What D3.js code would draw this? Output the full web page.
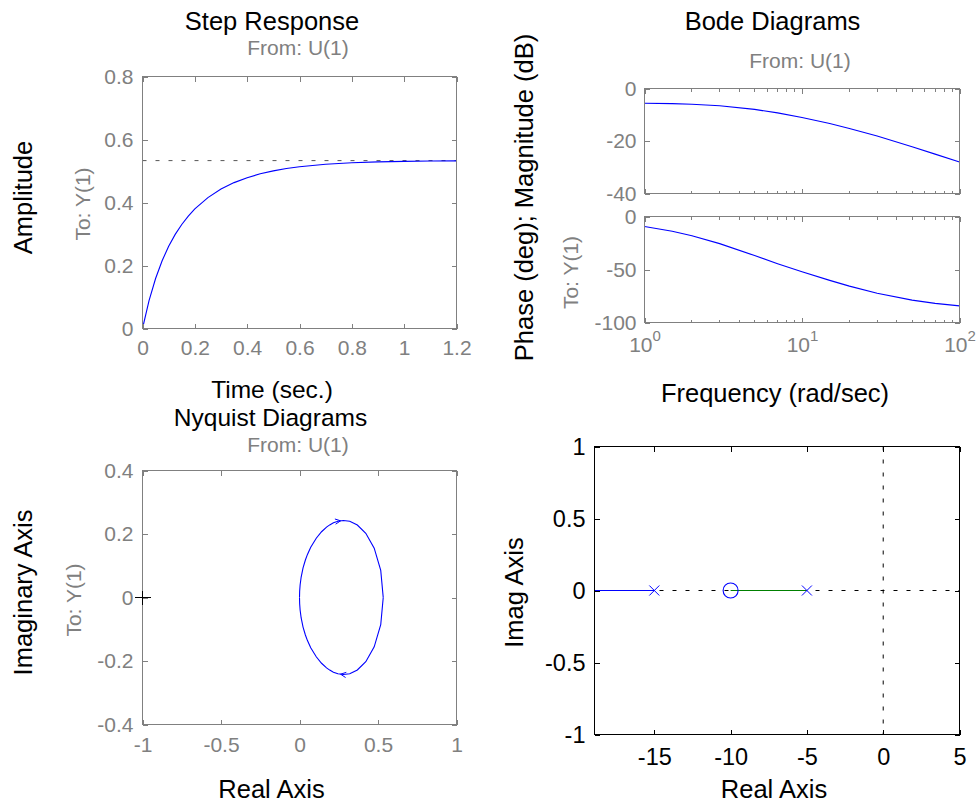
<!DOCTYPE html>
<html><head><meta charset="utf-8">
<script src="https://cdn.jsdelivr.net/npm/d3@7"></script>
<style>
body{margin:0;background:#fff}
svg{display:block}
text{font-family:"Liberation Sans",Arial,Helvetica,sans-serif}
</style>
</head><body>
<svg id="c" width="977" height="806"></svg>
<script>
// ---------- data ----------
const stepTime = [0,0.025,0.05,0.075,0.1,0.125,0.15,0.175,0.2,0.25,0.3,0.35,0.4,0.45,0.5,0.55,0.6,0.7,0.8,0.9,1.0,1.1,1.2];
const stepAmp  = [0,0.0887,0.1588,0.2151,0.2610,0.2988,0.3302,0.3568,0.3795,0.4156,0.4426,0.4631,0.4789,0.4910,0.5005,0.5077,0.5134,0.5212,0.5260,0.5289,0.5306,0.5317,0.5323];
const stepFinal = 0.533;
const stepXTicks = [0,0.2,0.4,0.6,0.8,1,1.2];
const stepYTicks = [0,0.2,0.4,0.6,0.8];

const bodeFreq  = [1,1.5,2,3,5,7,10,15,20,30,50,70,100];
const bodeMag   = [-5.61,-5.78,-6.01,-6.59,-7.96,-9.30,-11.04,-13.35,-15.21,-18.13,-22.19,-25.00,-28.02];
const bodePhase = [-9.41,-13.88,-18.09,-25.58,-36.87,-44.49,-52.13,-60.26,-65.66,-72.41,-78.90,-81.95,-84.32];
const magTicks   = [0,-20,-40];
const phaseTicks = [0,-50,-100];
const freqTicks  = [1,10,100];

// Nyquist, positive frequencies (0 -> inf)
const nyqRe = [0.5333,0.5174,0.4758,0.4223,0.3684,0.3200,0.2789,0.2446,0.2162,0.1924,0.1723,0.1405,0.1067,0.0715,0.0507,0.0375,0.0226,0.0106,0.0039,0.0010,0];
const nyqIm = [0,-0.0858,-0.1554,-0.2021,-0.2283,-0.2400,-0.2427,-0.2403,-0.2351,-0.2286,-0.2215,-0.2071,-0.1867,-0.1581,-0.1357,-0.1182,-0.0931,-0.0645,-0.0395,-0.0199,0];
const nyqXTicks = [-1,-0.5,0,0.5,1];
const nyqYTicks = [-0.4,-0.2,0,0.2,0.4];

// Root locus
const rlPoles = [-15,-5];
const rlZeros = [-10];
const rlBranchBlue  = [-15,-100];
const rlBranchGreen = [-5,-10];
const rlXTicks = [-15,-10,-5,0,5];
const rlYTicks = [-1,-0.5,0,0.5,1];
const rlXMin = -18.92, rlXMax = 5;

// ---------- drawing ----------
const svg = d3.select("#c");
const GRAY = "#808080";
const BLUE = "#0000ff";
const GREEN = "#008000";

function txt(x,y,s,size,color,anchor,rot){
  const t = svg.append("text").attr("font-size",size).attr("fill",color)
    .attr("text-anchor",anchor||"middle").text(s);
  if(rot) t.attr("transform",`translate(${x},${y}) rotate(-90)`);
  else t.attr("x",x).attr("y",y);
  return t;
}

function frame(x,y,opt){
  const c = opt.color, fs = opt.fs;
  const [x0,x1] = x.range(), [y1,y0] = y.range();
  const g = svg.append("g");
  const style = sel=>{
    sel.select(".domain").remove();
    sel.selectAll(".tick line").attr("stroke",c).attr("shape-rendering","crispEdges");
    sel.selectAll(".tick text").attr("fill",c).attr("font-size",fs)
       .attr("font-family",'"Liberation Sans",Arial,sans-serif');
  };
  const xt = opt.xticks, yt = opt.yticks;
  const b = g.append("g").attr("transform",`translate(0,${y1})`)
    .call(d3.axisBottom(x).tickValues(xt).tickSize(-opt.tl).tickPadding(opt.xpad)
      .tickFormat(opt.xfmt || (d=>String(d)))).call(style);
  if(!opt.xlabels) b.selectAll(".tick text").remove();
  g.append("g").attr("transform",`translate(0,${y0})`)
    .call(d3.axisTop(x).tickValues(xt).tickSize(-opt.tl).tickFormat("")).call(style);
  g.append("g").attr("transform",`translate(${x0},0)`)
    .call(d3.axisLeft(y).tickValues(yt).tickSize(-opt.tl).tickPadding(opt.ypad)
      .tickFormat(opt.yfmt || (d=>String(d)))).call(style);
  g.append("g").attr("transform",`translate(${x1},0)`)
    .call(d3.axisRight(y).tickValues(yt).tickSize(-opt.tl).tickFormat("")).call(style);
  g.append("rect").attr("x",x0).attr("y",y0).attr("width",x1-x0).attr("height",y1-y0)
    .attr("fill","none").attr("stroke",c).attr("stroke-width",1).attr("shape-rendering","crispEdges");
  return b;
}

// ===== Step response =====
{
  const x = d3.scaleLinear().domain([0,1.2]).range([142.5,456.5]);
  const y = d3.scaleLinear().domain([0,0.8]).range([328.5,76.5]);
  svg.append("line").attr("x1",x(0)).attr("x2",x(1.2)).attr("y1",y(stepFinal)).attr("y2",y(stepFinal))
    .attr("stroke","#555").attr("stroke-dasharray","4,9").attr("stroke-width",1);
  svg.append("path").datum(stepTime.map((t,i)=>[t,stepAmp[i]]))
    .attr("d",d3.line().x(d=>x(d[0])).y(d=>y(d[1])))
    .attr("fill","none").attr("stroke",BLUE).attr("stroke-width",1.1);
  frame(x,y,{color:GRAY,fs:21,tl:5,xticks:stepXTicks,yticks:stepYTicks,xpad:12,ypad:9,xlabels:true});
  txt(272,30,"Step Response",25.5,"#000");
  txt(298,55,"From: U(1)",21,GRAY);
  txt(32,197.5,"Amplitude",25.5,"#000","middle",true);
  txt(90,204,"To: Y(1)",21,GRAY,"middle",true);
  txt(272,398,"Time (sec.)",24.5,"#000");
}

// ===== Bode =====
{
  const x = d3.scaleLog().domain([1,100]).range([644.5,959.5]);
  const ym = d3.scaleLinear().domain([-40,0]).range([193.5,88.5]);
  const yp = d3.scaleLinear().domain([-100,0]).range([322.5,216.5]);
  const minor = [];
  [1,10].forEach(dec=>{for(let k=2;k<=9;k++) minor.push(dec*k);});
  [[ym,bodeMag,magTicks],[yp,bodePhase,phaseTicks]].forEach(([y,vals,yt],idx)=>{
    svg.append("path").datum(bodeFreq.map((f,i)=>[f,vals[i]]))
      .attr("d",d3.line().x(d=>x(d[0])).y(d=>y(d[1])))
      .attr("fill","none").attr("stroke",BLUE).attr("stroke-width",1.1);
    const b = frame(x,y,{color:GRAY,fs:21,tl:5,xticks:freqTicks,yticks:yt,xpad:15,ypad:8,xlabels:idx===1,
      xfmt:()=>""});
    const [y1,y0] = y.range();
    svg.append("g").call(g=>{
      g.selectAll("line.mb").data(minor).join("line").attr("x1",d=>x(d)).attr("x2",d=>x(d))
        .attr("y1",y1).attr("y2",y1-3).attr("stroke",GRAY).attr("shape-rendering","crispEdges");
      g.selectAll("line.mt").data(minor).join("line").attr("x1",d=>x(d)).attr("x2",d=>x(d))
        .attr("y1",y0).attr("y2",y0+3).attr("stroke",GRAY).attr("shape-rendering","crispEdges");
    });
    if(idx===1){
      b.selectAll(".tick text").text(null).each(function(d){
        const t = d3.select(this);
        t.append("tspan").text("10");
        t.append("tspan").attr("font-size",15).attr("dy","-0.75em").text(Math.round(Math.log10(d)));
      });
    }
  });
  txt(772.5,30,"Bode Diagrams",25.5,"#000");
  txt(800,68,"From: U(1)",21,GRAY);
  txt(533,197.5,"Phase (deg); Magnitude (dB)",25.5,"#000","middle",true);
  txt(578,272.5,"To: Y(1)",21,GRAY,"middle",true);
  txt(775,402,"Frequency (rad/sec)",25.5,"#000");
}

// ===== Nyquist =====
{
  const x = d3.scaleLinear().domain([-1,1]).range([142.5,456.5]);
  const y = d3.scaleLinear().domain([-0.4,0.4]).range([724.5,470.5]);
  const upper = nyqRe.map((r,i)=>[r,-nyqIm[i]]).reverse();
  const lower = nyqRe.map((r,i)=>[r,nyqIm[i]]);
  const line = d3.line().x(d=>x(d[0])).y(d=>y(d[1]));
  svg.append("path").datum(upper).attr("d",line).attr("fill","none").attr("stroke",BLUE).attr("stroke-width",1.1);
  svg.append("path").datum(lower).attr("d",line).attr("fill","none").attr("stroke",BLUE).attr("stroke-width",1.1);
  function arrow(p,q){
    const px=x(p[0]),py=y(p[1]),qx=x(q[0]),qy=y(q[1]);
    const mx=(px+qx)/2,my=(py+qy)/2;
    const a=Math.atan2(qy-py,qx-px), L=6, w=0.45;
    const pts=[[mx-L*Math.cos(a-w),my-L*Math.sin(a-w)],[mx,my],[mx-L*Math.cos(a+w),my-L*Math.sin(a+w)]];
    svg.append("path").attr("d",d3.line()(pts)).attr("fill","none").attr("stroke",BLUE).attr("stroke-width",1);
  }
  const ui = upper.length-1-7;
  arrow(upper[ui],upper[ui+1]);
  arrow(lower[6],lower[7]);
  frame(x,y,{color:GRAY,fs:21,tl:5,xticks:nyqXTicks,yticks:nyqYTicks,xpad:13,ypad:9,xlabels:true});
  svg.append("path").attr("d",`M${x(-1)-8},${y(0)}H${x(-1)+8}M${x(-1)},${y(0)-7}V${y(0)+7}`)
    .attr("stroke","#000").attr("stroke-width",1).attr("shape-rendering","crispEdges");
  txt(270.5,426,"Nyquist Diagrams",24.5,"#000");
  txt(298,452,"From: U(1)",21,GRAY);
  txt(32,592.5,"Imaginary Axis",25.5,"#000","middle",true);
  txt(81,600,"To: Y(1)",21,GRAY,"middle",true);
  txt(271.5,798,"Real Axis",25.5,"#000");
}

// ===== Root locus =====
{
  const x = d3.scaleLinear().domain([rlXMin,rlXMax]).range([594.5,959.5]);
  const y = d3.scaleLinear().domain([-1,1]).range([734.5,446.5]);
  svg.append("clipPath").attr("id","rlclip").append("rect")
    .attr("x",594.5).attr("y",446.5).attr("width",365).attr("height",288);
  const g = svg.append("g").attr("clip-path","url(#rlclip)");
  g.append("line").attr("x1",x(rlXMin)).attr("x2",x(rlXMax)).attr("y1",y(0)).attr("y2",y(0))
    .attr("stroke","#000").attr("stroke-dasharray","4,9");
  g.append("line").attr("x1",x(0)).attr("x2",x(0)).attr("y1",y(1)).attr("y2",y(-1))
    .attr("stroke","#000").attr("stroke-dasharray","4,9");
  g.append("line").attr("x1",x(rlBranchBlue[0])).attr("x2",x(rlBranchBlue[1])).attr("y1",y(0)).attr("y2",y(0))
    .attr("stroke",BLUE).attr("stroke-width",1.1);
  g.append("line").attr("x1",x(rlBranchGreen[0])).attr("x2",x(rlBranchGreen[1])).attr("y1",y(0)).attr("y2",y(0))
    .attr("stroke",GREEN).attr("stroke-width",1.1);
  rlPoles.forEach(p=>{
    const cx=x(p),cy=y(0),s=5;
    svg.append("path").attr("d",`M${cx-s},${cy-s}L${cx+s},${cy+s}M${cx-s},${cy+s}L${cx+s},${cy-s}`)
      .attr("stroke",BLUE).attr("stroke-width",1);
  });
  rlZeros.forEach(z=>{
    svg.append("circle").attr("cx",x(z)).attr("cy",y(0)).attr("r",7.5)
      .attr("fill","none").attr("stroke",BLUE).attr("stroke-width",1.1);
  });
  frame(x,y,{color:"#000",fs:23.5,tl:5,xticks:rlXTicks,yticks:rlYTicks,xpad:14,ypad:9,xlabels:true});
  txt(523,592.5,"Imag Axis",25.5,"#000","middle",true);
  txt(774,798,"Real Axis",25.5,"#000");
}
</script>
</body></html>
